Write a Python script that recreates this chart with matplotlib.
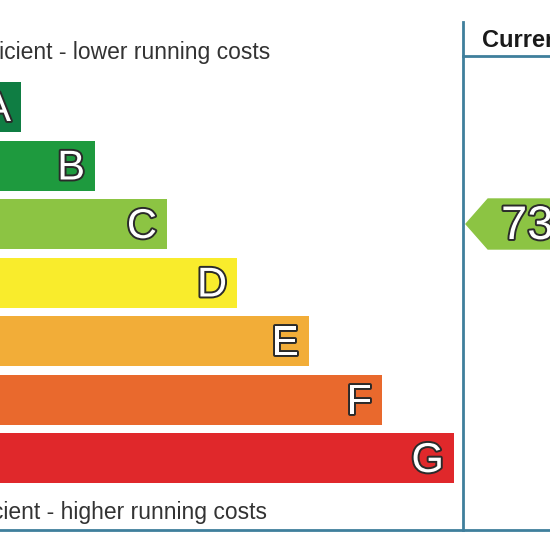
import matplotlib
matplotlib.use("Agg")
import matplotlib.pyplot as plt
import matplotlib.patheffects as pe
from matplotlib.patches import Polygon

plt.rcParams['font.family'] = ['Liberation Sans', 'DejaVu Sans']

# bands of the rating scale
bands = ["A", "B", "C", "D", "E", "F", "G"]
band_ends = [21, 95, 167, 237, 309, 382, 454]   # right edge of each band
band_colors = ["#0f7d43", "#1e9a3e", "#8cc443", "#f9ec2c", "#f2ad38", "#e9692d", "#e0282b"]
current_rating = 73
current_band = "C"
top_label = "Very energy efficient - lower running costs"
bottom_label = "Not energy efficient - higher running costs"
header = "Current"

fig = plt.figure(figsize=(5.5, 5.5), dpi=100)
ax = fig.add_axes([0, 0, 1, 1])
ax.set_xlim(0, 550)
ax.set_ylim(550, 0)
ax.axis("off")

line_col = "#3f7f9c"
bar_h = 50
step = 58.5
top0 = 82

for i, (b, end, c) in enumerate(zip(bands, band_ends, band_colors)):
    y = top0 + i * step
    ax.barh(y + bar_h / 2, end, height=bar_h, left=0, color=c)
    ax.text(end - 10, y + bar_h / 2 + 3, b, ha="right", va="center",
            fontsize=30, color="white",
            path_effects=[pe.withStroke(linewidth=2.8, foreground="#2a2a2a")])

ax.text(270, 59, top_label, ha="right", va="baseline", fontsize=16.5, color="#333333")
ax.text(267, 519, bottom_label, ha="right", va="baseline", fontsize=16.5, color="#333333")

# frame lines
ax.plot([463, 463], [22, 530], color=line_col, lw=2)
ax.plot([463, 550], [56, 56], color=line_col, lw=2)
ax.plot([0, 550], [530, 530], color=line_col, lw=2)
ax.text(482, 47, header, ha="left", va="baseline", fontsize=17, fontweight="bold", color="#1a1a1a")

# current rating arrow
ci = bands.index(current_band)
yc = top0 + ci * step + bar_h / 2
arrow = Polygon([[466, yc], [488, yc - 25], [560, yc - 25], [560, yc + 25], [488, yc + 25]],
                closed=True, color=band_colors[ci])
ax.add_patch(arrow)
ax.text(501, yc + 3, str(current_rating), ha="left", va="center", fontsize=34, color="white",
        path_effects=[pe.withStroke(linewidth=2.8, foreground="#2a2a2a")])

fig.savefig("out.png", dpi=100)
